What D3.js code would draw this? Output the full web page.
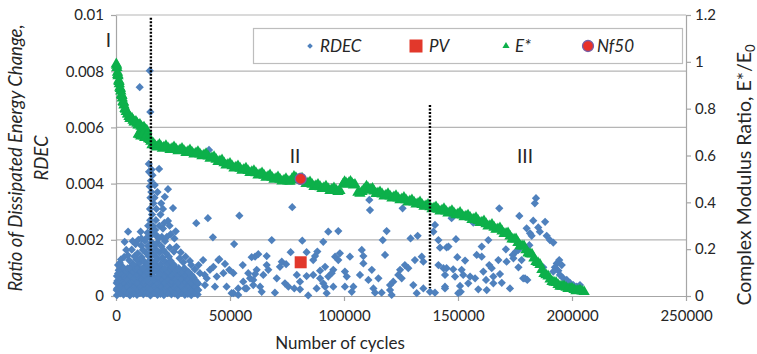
<!DOCTYPE html>
<html>
<head>
<meta charset="utf-8">
<script src="https://cdn.jsdelivr.net/npm/d3@7"></script>
<style>
  body { margin: 0; background: #fff; }
  svg { display: block; }
  text { font-family: Lato, "Open Sans", sans-serif; fill: #262626; }
</style>
</head>
<body>
<svg id="chart" width="757" height="354"></svg>
<script>
// ---- axis ticks ----
const cycleTicks = [0, 50000, 100000, 150000, 200000, 250000];
const cycleTickLabels = ["0", "50000", "100000", "150000", "200000", "250000"];
const rdecTicks = [0, 0.002, 0.004, 0.006, 0.008, 0.01];
const rdecTickLabels = ["0", "0.002", "0.004", "0.006", "0.008", "0.01"];
const ratioTicks = [0, 0.2, 0.4, 0.6, 0.8, 1, 1.2];
const ratioTickLabels = ["0", "0.2", "0.4", "0.6", "0.8", "1", "1.2"];

// ---- RDEC: [cycles, ratio of dissipated energy change] ----
const rdecPoints = [
  // early cycles, dense band
  [400,0.00003],[3300,0.00005],[6100,0.00002],[9200,0.00004],[12000,0.00006],[15100,0.00002],[18200,0.00004],[21000,0.00003],[24300,0.00006],[27100,0.00002],[30200,0.00004],[33000,0.00003],[35800,0.00005],
  [1800,0.00009],[4600,0.0001],[7700,0.00008],[10500,0.0001],[13600,0.00009],[16800,0.00011],[19500,0.00008],[22600,0.0001],[25700,0.00009],[28800,0.00011],[31500,0.00008],[34600,0.0001],
  [1900,0.00016],[4700,0.00013],[7800,0.00017],[10600,0.00014],[13700,0.00016],[16500,0.00013],[19600,0.00017],[22700,0.00015],[25600,0.00012],[28500,0.00016],[31600,0.00014],[34400,0.00017],
  [300,0.00021],[3300,0.00022],[6400,0.0002],[9300,0.00022],[12200,0.00021],[15300,0.00023],[18300,0.0002],[21400,0.00022],[24500,0.00021],[27400,0.00023],[30300,0.0002],[33300,0.00022],[36100,0.00021],
  [500,0.00027],[3200,0.0003],[6300,0.00026],[9000,0.00029],[12200,0.00031],[15000,0.00026],[18100,0.00028],[21200,0.0003],[24000,0.00027],[27000,0.00029],[30100,0.00026],[33200,0.0003],[35200,0.00028],
  [1800,0.00034],[4700,0.00035],[7800,0.00033],[10600,0.00035],[13600,0.00034],[16700,0.00036],[19600,0.00033],[22400,0.00035],[25600,0.00034],[28600,0.00036],[31700,0.00033],[34700,0.00035],
  [1700,0.00041],[4800,0.00038],[7600,0.00042],[10800,0.00039],[13500,0.00041],[16600,0.00043],[19400,0.00038],[22500,0.0004],[25700,0.00042],[28400,0.00039],[31500,0.00041],[34100,0.00038],
  [300,0.00046],[3200,0.00047],[6300,0.00045],[9100,0.00047],[12300,0.00046],[15100,0.00048],[18200,0.00045],[21300,0.00047],[24100,0.00046],[27100,0.00048],[30000,0.00045],[33000,0.00047],[36000,0.00044],
  [600,0.00053],[3400,0.0005],[6200,0.00054],[9300,0.00051],[12100,0.00053],[15200,0.00055],[18000,0.0005],[21100,0.00052],[24200,0.00054],[27300,0.00051],[30000,0.00053],[32900,0.0005],[35500,0.00049],
  [1900,0.00058],[4800,0.00059],[7700,0.00057],[10900,0.00059],[13700,0.00058],[16600,0.0006],[19300,0.00057],[22400,0.00059],[25800,0.00058],[28700,0.0006],[31900,0.00057],[34500,0.00058],
  [1500,0.00066],[4600,0.00063],[7900,0.00067],[10700,0.00064],[13600,0.00066],[16400,0.00068],[19700,0.00063],[22600,0.00065],[25500,0.00067],[28600,0.00064],[31200,0.00062],[34000,0.00066],
  [400,0.00071],[3300,0.00072],[6400,0.0007],[9400,0.00072],[12200,0.00071],[15400,0.00073],[18300,0.0007],[21200,0.00072],[24300,0.00071],[27300,0.00073],[30100,0.0007],[33300,0.00071],
  [2800,0.00079],[5900,0.00076],[9100,0.0008],[12300,0.00077],[15300,0.00079],[18500,0.00081],[21400,0.00076],[24100,0.00078],[27200,0.0008],[30300,0.00077],[33100,0.00075],[900,0.0008],
  [1900,0.00084],[4700,0.00085],[7800,0.00083],[10700,0.00085],[13500,0.00084],[16500,0.00086],[19500,0.00083],[22400,0.00085],[25500,0.00084],[28400,0.00086],[31000,0.00083],
  [1200,0.00092],[4400,0.00091],[7300,0.00088],[10500,0.00092],[13800,0.00089],[16700,0.00093],[19800,0.0009],[22900,0.00088],[25800,0.00091],[29000,0.00089],[31800,0.00086],[34600,0.00095],
  [2200,0.00097],[5100,0.00098],[8500,0.00096],[11600,0.00098],[14400,0.00097],[17500,0.00099],[20400,0.00096],[23600,0.00098],[26500,0.00097],[30000,0.00099],
  [3000,0.00103],[6000,0.001],[9200,0.00104],[12100,0.00101],[15200,0.00103],[18300,0.00105],[21300,0.001],[24400,0.00102],[27500,0.00099],[36200,0.0011],
  [1700,0.00117],[7500,0.00114],[10400,0.00118],[13500,0.00115],[16600,0.00117],[19500,0.00113],[22600,0.00116],[25300,0.00112],[29500,0.0012],
  [5800,0.00127],[9000,0.0013],[12000,0.00126],[15100,0.00129],[18200,0.00131],[21000,0.00127],[24000,0.00125],[32400,0.00125],[2200,0.0013],
  [3600,0.00139],[8100,0.00141],[11200,0.00138],[14300,0.00142],[17400,0.0014],[20300,0.00137],[23200,0.0014],[30500,0.0014],[5200,0.00145],
  [9500,0.00152],[13000,0.00155],[16000,0.00151],[19000,0.00154],[22000,0.00152],[28400,0.00155],[25400,0.00158],
  [11800,0.00164],[14900,0.00167],[17600,0.00165],[20800,0.00163],[6900,0.00165],[26500,0.00175],[23600,0.00172],
  [13900,0.00178],[16900,0.0018],[19900,0.00177],[11000,0.0018],[8600,0.00185],
  [15600,0.00192],[18200,0.0019],[21500,0.00195],[7300,0.00195],[9800,0.002],[12600,0.00196],
  // spikes around the end of phase I
  [14700,0.0021],[16800,0.0022],[15400,0.0023],[17900,0.00215],[16200,0.0025],[15000,0.0027],[15800,0.0029],[17500,0.0027],
  [14900,0.0031],[16400,0.0033],[15100,0.0035],[15500,0.0037],[14800,0.0039],[15300,0.0041],[14500,0.00442],[18900,0.00452],
  [17000,0.00395],[22800,0.0038],[21400,0.00353],[25000,0.00313],[22800,0.00267],[19500,0.0029],[20600,0.0024],[24000,0.0022],
  [13200,0.00205],[18700,0.00205],[20100,0.0021],[22300,0.0021],[13800,0.00225],[17200,0.00235],[19000,0.0025],[21200,0.0026],
  [23500,0.0025],[14100,0.0025],[17700,0.0031],[19800,0.0033],[16900,0.0035],[18200,0.0037],[20600,0.0031],[16000,0.0043],
  [14400,0.0047],[15600,0.0045],[26200,0.0023],[25600,0.00205],
  [35200,0.00259],[40300,0.00277],[42500,0.00209],[5300,0.00229],[3800,0.00193],[10800,0.00229],[11100,0.00205],[4500,0.00164],
  [900,0.0011],[27900,0.00134],[38200,0.00128],[33000,0.0011],[38900,0.00075],[15050,0.00655],[10400,0.00743],[14800,0.00802],[40800,0.0052],
  // phase II
  [54100,0.00286],[51800,0.00185],[44900,0.00128],[41200,0.00093],[47800,0.00114],[47100,0.00081],[48500,0.00033],[51500,0.0001],
  [53600,0.00027],[56600,0.00027],[60200,0.00057],[61700,0.00093],[61000,0.0014],[58000,0.00081],[44200,0.00069],[39800,0.00063],
  [43400,0.00033],[39000,0.00039],[36800,0.00081],
  [77300,0.00316],[68300,0.00199],[81700,0.00197],[90900,0.00193],[93100,0.00229],[76600,0.00156],[83600,0.00156],[88300,0.00158],
  [87300,0.00142],[86500,0.00128],[66100,0.00142],[62400,0.00149],[59500,0.00138],[55600,0.0011],[45300,0.00131],[72700,0.00122],
  [74600,0.00113],[71900,0.00104],[66100,0.0011],[66800,0.00093],[64600,0.00075],[61000,0.00078],[58800,0.00063],[55800,0.00051],
  [51500,0.00081],[49700,0.00093],[42700,0.00104],[50700,0.0001],[53600,0.00004],[57300,0.00027],[60200,0.00039],[63200,0.00033],
  [63900,0.00015],[69700,0.00012],[74100,0.00045],[75600,0.00033],[70500,0.00063],[79300,0.00075],[83600,0.00071],[86500,0.00075],
  [89500,0.00063],[80700,0.00051],[78200,0.00027],[80700,0.00024],[84300,0.00002],[88000,0.00027],[91700,0.00033],[93100,0.00069],[89500,0.0009],
  [111400,0.00306],[111100,0.00342],[125700,0.00312],[97500,0.00231],[118700,0.00231],[117000,0.00199],[129200,0.00205],[132300,0.00214],
  [139900,0.00253],[139200,0.00229],[141400,0.00199],[142100,0.00172],[145800,0.00176],[107800,0.00164],[108500,0.00142],[118000,0.00146],
  [102600,0.0014],[98200,0.00152],[96100,0.0014],[97500,0.00128],[108500,0.00116],[91700,0.00104],[131100,0.00128],[134100,0.0014],
  [134800,0.00122],[141400,0.0011],[143600,0.00099],[126700,0.0011],[128200,0.00099],[124600,0.00093],[123800,0.00075],[125300,0.00063],
  [121600,0.00051],[120200,0.00039],[95300,0.00093],[94600,0.00081],[100400,0.00087],[101200,0.00069],[112200,0.00093],[115100,0.00063],
  [110700,0.00057],[107000,0.00075],[90900,0.00045],[95300,0.00033],[100400,0.00033],[104100,0.00033],[103400,0.00015],[92400,0.0001],
  [112900,0.00027],[113600,0.00012],[116500,0.00012],[120200,0.00021],[120900,0.00004],[130400,0.00039],[131900,0.0001],[134800,0.00027],
  [137700,0.00015],[139900,0.00012],[144300,0.00033],
  // phase III
  [184200,0.00348],[183700,0.0033],[168100,0.00312],[176900,0.00285],[147200,0.00277],[156700,0.00261],[183000,0.00268],[188200,0.00264],
  [180100,0.00241],[185200,0.00244],[185900,0.00229],[181600,0.00223],[182300,0.00214],[188900,0.00214],[190300,0.00199],[191800,0.0019],
  [149100,0.00202],[163300,0.00199],[145000,0.00173],[181300,0.00181],[160400,0.00176],[171000,0.00166],[175400,0.00158],[174000,0.00146],
  [158200,0.00146],[160400,0.0014],[149700,0.00138],[153100,0.00126],[167700,0.00128],[171300,0.00122],[176500,0.00102],[163700,0.0011],
  [164800,0.00099],[194400,0.00128],[193300,0.00116],[195500,0.0011],[192500,0.00102],[194000,0.0009],[187400,0.00102],[191800,0.00087],
  [194700,0.00075],[196200,0.00063],[197700,0.00057],[199100,0.00047],[200600,0.00039],[198400,0.00036],[202100,0.00033],[203500,0.00039],
  [179400,0.00063],[180400,0.00057],[145000,0.00099],[147900,0.00095],[144300,0.00075],[148700,0.00069],[151600,0.00093],[152300,0.00075],
  [155300,0.00069],[157500,0.00063],[161100,0.00087],[162300,0.00057],[165500,0.00069],[168400,0.00078],[169200,0.00047],[165500,0.00045],
  [150900,0.00036],[154500,0.00045],[151200,0.00015],[150100,0.0001],[158900,0.00024],[162600,0.00021],[172800,0.00027],[144300,0.00027],
  [177900,0.00128],[178600,0.00063],[174300,0.00134],[176500,0.00164]
];

// ---- E*/E0: [cycles, complex modulus ratio] ----
const eStarPoints = [
  [130,0.99],[400,0.975],[650,0.955],[900,0.94],[1200,0.92],[1450,0.905],[1700,0.89],[2100,0.875],[2400,0.86],[2750,0.845],
  [3100,0.83],[3500,0.815],[3950,0.8],[4500,0.787],[5050,0.776],[5700,0.766],[6600,0.757],[7450,0.75],[8300,0.743],[9200,0.737],
  [10100,0.73],[10950,0.724],[11850,0.718],[12700,0.712],[13500,0.708],
  [280,0.985],[780,0.945],[1320,0.915],[1900,0.885],[2600,0.855],[3300,0.826],[4200,0.797],[5400,0.777],[6100,0.757],[7000,0.759],
  [7900,0.742],[8750,0.745],[9650,0.729],[10500,0.732],[11400,0.716],[12300,0.72],[13100,0.706],
  [9800,0.69],[10500,0.688],[11300,0.685],[12200,0.682],[13000,0.68],[13900,0.677],[14700,0.673],[15300,0.66],
  [10150,0.693],[10900,0.682],[11750,0.689],[12600,0.676],[13450,0.684],[14300,0.671],[15000,0.667],
  [15800,0.645],[17100,0.642],[18400,0.64],[19700,0.638],[21000,0.635],[22800,0.632],[24600,0.63],[26300,0.627],[28100,0.624],
  [29800,0.62],[31600,0.617],[33300,0.614],[35100,0.61],[36800,0.606],[38600,0.602],[40400,0.597],[42100,0.59],[43900,0.583],
  [45600,0.576],[47400,0.568],[49100,0.561],[50900,0.555],[52600,0.55],[54400,0.545],[56100,0.54],[57900,0.535],[59600,0.53],
  [61400,0.525],[63200,0.52],[64900,0.515],[66700,0.51],[68400,0.506],[70200,0.502],[71900,0.498],[73700,0.494],[75400,0.49],
  [77200,0.5],[78900,0.505],[80700,0.5],[82500,0.49],[84200,0.482],[86000,0.476],[87700,0.471],[89500,0.466],[91200,0.462],
  [93000,0.458],[94700,0.455],[96500,0.452],[98200,0.45],[99600,0.478],[100900,0.482],[102200,0.483],[103500,0.48],[104800,0.476],
  [106100,0.442],[107900,0.445],[109200,0.458],[110500,0.462],[111800,0.455],[113200,0.447],[114900,0.44],[116700,0.435],
  [118400,0.43],[120200,0.426],[121900,0.422],[123700,0.418],[125400,0.414],[127200,0.41],[128900,0.405],[130700,0.4],
  [132500,0.395],[134200,0.39],[136000,0.385],[137700,0.38],[139500,0.375],[141200,0.37],[143000,0.366],[144700,0.362],
  [146500,0.358],[148200,0.354],[150000,0.35],[151800,0.345],[153500,0.34],[155300,0.335],[157000,0.329],[158800,0.322],
  [160500,0.315],[162300,0.308],[164000,0.3],[165800,0.293],[167500,0.286],[169300,0.277],[171100,0.267],[172800,0.255],
  [174600,0.242],[176300,0.228],[178100,0.213],[179800,0.197],[181600,0.18],[183300,0.161],[185100,0.142],[186800,0.112],
  [188600,0.09],[190400,0.072],[192100,0.058],[193900,0.048],[195600,0.041],[197400,0.036],[199100,0.032],[200900,0.027],
  [202600,0.023],[204400,0.02],[205300,0.018],
  // scatter on both sides of the band
  [16450,0.651],[17750,0.635],[19050,0.647],[20350,0.63],[21900,0.641],[23700,0.625],[25450,0.636],[27200,0.619],[28950,0.63],
  [30700,0.612],[32450,0.623],[34200,0.606],[35950,0.616],[37700,0.598],[39500,0.607],[41250,0.587],[43000,0.594],[44750,0.573],
  [46500,0.58],[48250,0.558],[50000,0.566],[51750,0.546],[53500,0.555],[55250,0.536],[57000,0.545],[58750,0.526],[60500,0.535],
  [62300,0.516],[64050,0.525],[65800,0.506],[67550,0.516],[69300,0.498],[71050,0.508],[72800,0.49],[74550,0.5],[76300,0.489],
  [78050,0.51],[79800,0.496],[81600,0.503],[83350,0.48],[85100,0.487],[86850,0.467],[88600,0.476],[90350,0.458],[92100,0.468],
  [93850,0.45],[95600,0.461],[97350,0.445],[100250,0.488],[101550,0.476],[102850,0.489],[104150,0.473],
  [107000,0.438],[108550,0.452],[109850,0.468],[111150,0.452],[112500,0.459],[114050,0.437],[115800,0.444],[117550,0.426],
  [119300,0.436],[121050,0.418],[122800,0.428],[124550,0.41],[126300,0.42],[128050,0.401],[129800,0.41],[131600,0.392],
  [133350,0.401],[135100,0.382],[136850,0.39],[138600,0.372],[140350,0.38],[142100,0.362],[143850,0.372],[145600,0.354],
  [147350,0.364],[149100,0.346],[150900,0.356],[152650,0.337],[154400,0.345],[156150,0.326],[157900,0.334],[159650,0.313],
  [161400,0.32],[163150,0.298],[164900,0.305],[166650,0.284],[168400,0.29],[170200,0.266],[171950,0.269],[173700,0.243],
  [175450,0.243],[177200,0.214],[178950,0.213],[180700,0.183],[182450,0.178],[184200,0.146],[185950,0.134],[187700,0.095],
  [189500,0.085],[191250,0.061],[193000,0.057],[194750,0.041],[196500,0.042],[198250,0.031],[200000,0.033],[201750,0.022],[203500,0.025]
];

const pvPoints = [[81000, 0.0012]];      // plateau value, on the RDEC axis
const nf50Points = [[81000, 0.5]];       // 50 % modulus reduction, on the E* axis

// phase boundaries: cycles, RDEC range covered by the dotted line
const phaseBoundaries = [
  { cycles: 15300, from: 0.00068, to: 0.0099 },
  { cycles: 137700, from: 0.00028, to: 0.0068 }
];
const phaseLabels = [
  { text: "I", cycles: -3300, rdec: 0.00885 },
  { text: "II", cycles: 78500, rdec: 0.00473 },
  { text: "III", cycles: 179400, rdec: 0.00473 }
];

const legendItems = [
  { key: "RDEC", symbol: "diamond" },
  { key: "PV", symbol: "square" },
  { key: "E*", symbol: "triangle" },
  { key: "Nf50", symbol: "circle" }
];

// ---- colours ----
const blue = "#4f81bd", red = "#e2382b", green = "#0cb04a", purple = "#7460a8";
const gridColor = "#b5b5b5", axisColor = "#a6a6a6";

const svg = d3.select("#chart");
const plotLeft = 116, plotRight = 686, plotTop = 15, plotBottom = 296;

const x = d3.scaleLinear().domain([0, 250000]).range([plotLeft, plotRight]);
const y = d3.scaleLinear().domain([0, 0.01]).range([plotBottom, plotTop]);
const y2 = d3.scaleLinear().domain([0, 1.2]).range([plotBottom, plotTop]);

// horizontal gridlines on the RDEC ticks
svg.append("g").selectAll("line")
  .data(rdecTicks.filter(d => d > 0))
  .join("line")
  .attr("x1", plotLeft).attr("x2", plotRight)
  .attr("y1", d => y(d)).attr("y2", d => y(d))
  .attr("stroke", gridColor).attr("stroke-width", 1.2);

function styleAxis(g) {
  g.select(".domain").attr("stroke", axisColor).attr("stroke-width", 1.2);
  g.selectAll(".tick line").attr("stroke", axisColor).attr("stroke-width", 1.2);
  g.selectAll(".tick text").attr("font-size", 15).attr("fill", "#262626")
    .attr("font-family", "Lato, 'Open Sans', sans-serif");
}

svg.append("g").attr("transform", `translate(0,${plotBottom})`)
  .call(d3.axisBottom(x).tickValues(cycleTicks)
    .tickFormat((d, i) => cycleTickLabels[i]).tickSize(5).tickSizeOuter(0).tickPadding(9))
  .call(styleAxis);

svg.append("g").attr("transform", `translate(${plotLeft},0)`)
  .call(d3.axisLeft(y).tickValues(rdecTicks)
    .tickFormat((d, i) => rdecTickLabels[i]).tickSize(5).tickSizeOuter(0).tickPadding(7))
  .call(styleAxis);

svg.append("g").attr("transform", `translate(${plotRight},0)`)
  .call(d3.axisRight(y2).tickValues(ratioTicks)
    .tickFormat((d, i) => ratioTickLabels[i]).tickSize(5).tickSizeOuter(0).tickPadding(4))
  .call(styleAxis);

// ---- series ----
const diamond = d3.symbol(d3.symbolSquare, 34)();
const triangle = d3.symbol(d3.symbolTriangle, 56)();

svg.append("g").selectAll("path")
  .data(rdecPoints)
  .join("path")
  .attr("d", diamond)
  .attr("transform", d => `translate(${x(d[0])},${y(d[1])}) rotate(45)`)
  .attr("fill", blue);

svg.append("g").selectAll("rect")
  .data(pvPoints)
  .join("rect")
  .attr("x", d => x(d[0]) - 6).attr("y", d => y(d[1]) - 6)
  .attr("width", 12).attr("height", 12)
  .attr("fill", red);

svg.append("g").selectAll("path")
  .data(eStarPoints)
  .join("path")
  .attr("d", triangle)
  .attr("transform", d => `translate(${x(d[0])},${y2(d[1])})`)
  .attr("fill", green);

svg.append("g").selectAll("circle")
  .data(nf50Points)
  .join("circle")
  .attr("cx", d => x(d[0])).attr("cy", d => y2(d[1]))
  .attr("r", 5.5)
  .attr("fill", "#e8302a").attr("stroke", purple).attr("stroke-width", 1.3);

// phase boundaries
svg.append("g").selectAll("line")
  .data(phaseBoundaries)
  .join("line")
  .attr("x1", d => x(d.cycles)).attr("x2", d => x(d.cycles))
  .attr("y1", d => y(d.to)).attr("y2", d => y(d.from))
  .attr("stroke", "#000").attr("stroke-width", 2.4)
  .attr("stroke-dasharray", "2,1.5");

svg.append("g").selectAll("text")
  .data(phaseLabels)
  .join("text")
  .attr("x", d => x(d.cycles)).attr("y", d => y(d.rdec))
  .attr("text-anchor", "middle")
  .attr("font-family", "'Liberation Serif', 'DejaVu Serif', serif")
  .attr("font-size", 19)
  .attr("fill", "#111")
  .text(d => d.text);

// ---- legend ----
const legend = svg.append("g");
legend.append("rect")
  .attr("x", 253.5).attr("y", 28.5).attr("width", 429).attr("height", 35)
  .attr("fill", "#fff").attr("stroke", "#bdbdbd").attr("stroke-width", 1.2);

const legendX = [310, 416, 506, 588];
const legendTextX = [320, 429, 515, 597];
const legendY = 46;
legendItems.forEach((item, i) => {
  const cx = legendX[i];
  if (item.symbol === "diamond") {
    legend.append("path").attr("d", d3.symbol(d3.symbolSquare, 16)())
      .attr("transform", `translate(${cx},${legendY}) rotate(45)`).attr("fill", blue);
  } else if (item.symbol === "square") {
    legend.append("rect").attr("x", cx - 6.5).attr("y", legendY - 6.5)
      .attr("width", 13).attr("height", 13).attr("fill", red);
  } else if (item.symbol === "triangle") {
    legend.append("path").attr("d", d3.symbol(d3.symbolTriangle, 22)())
      .attr("transform", `translate(${cx},${legendY})`).attr("fill", green);
  } else {
    legend.append("circle").attr("cx", cx).attr("cy", legendY).attr("r", 5.5)
      .attr("fill", "#e8302a").attr("stroke", purple).attr("stroke-width", 1.3);
  }
  legend.append("text")
    .attr("x", legendTextX[i]).attr("y", legendY + 6)
    .attr("font-size", 17).attr("font-style", "italic")
    .text(item.key);
});

// ---- axis titles ----
svg.append("text")
  .attr("x", 340).attr("y", 349)
  .attr("text-anchor", "middle").attr("font-size", 17)
  .text("Number of cycles");

const leftTitle = svg.append("text")
  .attr("transform", "translate(22,158) rotate(-90)")
  .attr("text-anchor", "middle").attr("font-size", 18.5).attr("font-style", "italic");
leftTitle.append("tspan").attr("x", 0).attr("y", 0).text("Ratio of Dissipated Energy Change,");
leftTitle.append("tspan").attr("x", 0).attr("y", 26).text("RDEC");

const rightTitle = svg.append("text")
  .attr("transform", "translate(751,175) rotate(-90)")
  .attr("text-anchor", "middle").attr("font-size", 19.5);
rightTitle.append("tspan").text("Complex Modulus Ratio, E*/E");
rightTitle.append("tspan").attr("font-size", 13).attr("dy", 4).text("0");
</script>
</body>
</html>
